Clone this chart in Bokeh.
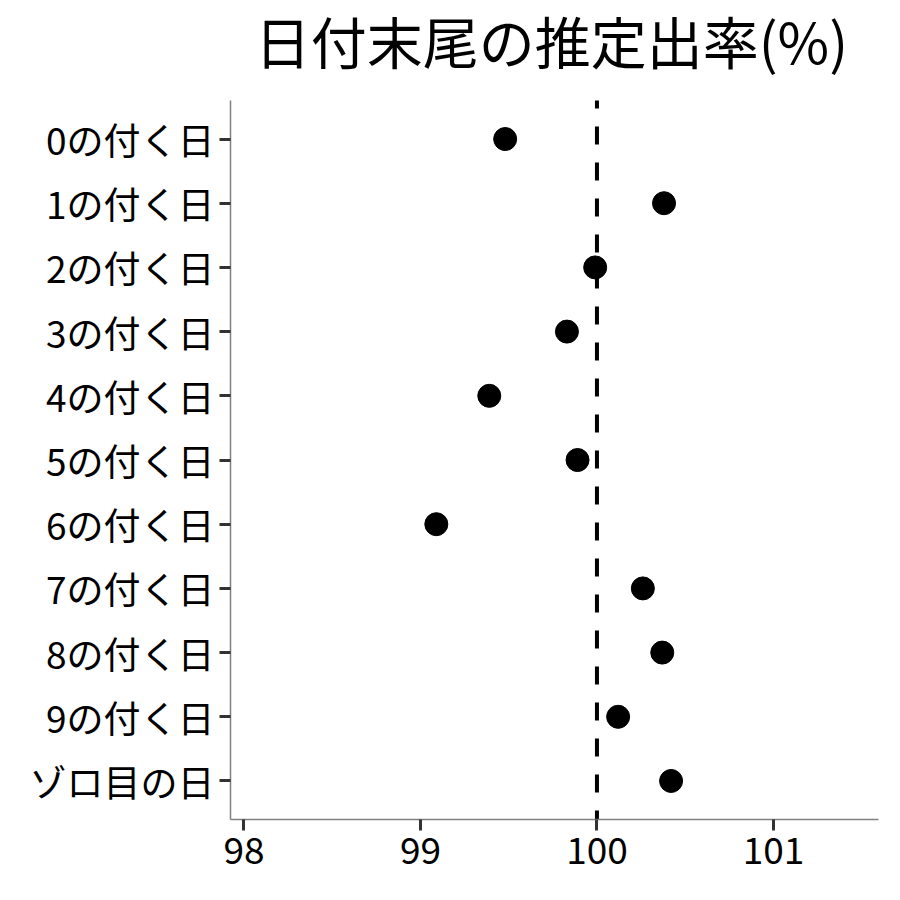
from bokeh.plotting import figure
from bokeh.models import Range1d, ColumnDataSource, FixedTicker, Label
from bokeh.embed import file_html
from bokeh.resources import INLINE

categories = ["0の付く日", "1の付く日", "2の付く日", "3の付く日", "4の付く日",
              "5の付く日", "6の付く日", "7の付く日", "8の付く日", "9の付く日", "ゾロ目の日"]
rates = [99.48, 100.38, 99.99, 99.83, 99.39, 99.89, 99.09, 100.26, 100.37, 100.12, 100.42]
x_ticks = [98, 99, 100, 101]
reference_rate = 100
title_text = "日付末尾の推定出率(%)"

FONT = "Noto Sans CJK JP"

n = len(categories)
ypos = [n - 1 - i for i in range(n)]          # first category at the top
y_lo, y_hi = -0.6, (n - 1) + 0.6              # discrete axis expansion
PX_PER_UNIT = 719 / (y_hi - y_lo)
TOP_SPACE = 100                               # room for the title inside the frame
y_top = y_hi + TOP_SPACE / PX_PER_UNIT

src = ColumnDataSource(data=dict(y=ypos, rate=rates))

p = figure(width=892, height=892,
           x_range=Range1d(97.924, 101.595),
           y_range=Range1d(y_lo, y_top),
           output_backend="svg", toolbar_location=None,
           min_border_left=230, min_border_right=14, min_border_top=0, min_border_bottom=73)

p.outline_line_color = None
p.xgrid.visible = False
p.ygrid.visible = False
p.background_fill_color = "white"
p.border_fill_color = "white"

# title drawn inside the (extended) frame, above the plotting area
title = Label(text=title_text, x=99.742, y=y_top - 39 / PX_PER_UNIT,
              text_align="center", text_baseline="alphabetic",
              text_font=FONT, text_font_size="56px", text_color="black")
p.add_layout(title)

# dashed reference line at 100, limited to the plotting panel
p.segment(x0=[reference_rate], x1=[reference_rate], y0=[y_hi], y1=[y_lo],
          line_color="black", line_width=4, line_dash="18 18", line_dash_offset=10)

p.scatter(x="rate", y="y", source=src, size=23, color="black", line_color="black")

for ax in (p.xaxis[0], p.yaxis[0]):
    ax.axis_line_color = "#808080"
    ax.axis_line_width = 1.5
    ax.major_tick_line_color = "#333333"
    ax.major_tick_line_width = 3
    ax.major_tick_out = 11
    ax.major_tick_in = 0
    ax.minor_tick_line_color = None
    ax.major_label_text_font = FONT
    ax.major_label_text_font_size = "37px"
    ax.major_label_text_color = "black"

p.xaxis.ticker = FixedTicker(ticks=x_ticks)
p.xaxis.major_label_standoff = 6

p.yaxis.ticker = FixedTicker(ticks=ypos)
p.yaxis.major_label_overrides = {y: c for y, c in zip(ypos, categories)}
p.yaxis.bounds = (y_lo, y_hi)
p.yaxis.major_label_standoff = 5

open("out.html", "w").write(file_html(p, INLINE))
